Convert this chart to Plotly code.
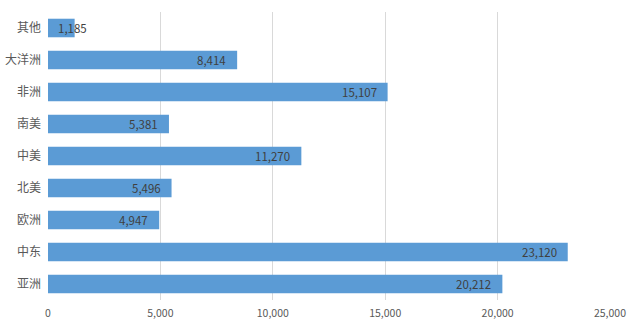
import plotly.graph_objects as go

categories = ["其他", "大洋洲", "非洲", "南美", "中美", "北美", "欧洲", "中东", "亚洲"]
values = [1185, 8414, 15107, 5381, 11270, 5496, 4947, 23120, 20212]
tick_vals = [0, 5000, 10000, 15000, 20000, 25000]
tick_text = ["0", "5,000", "10,000", "15,000", "20,000", "25,000"]

labels = [f"{v:,}" for v in values]

fig = go.Figure()
fig.add_trace(go.Bar(
    y=categories, x=values, orientation="h",
    marker=dict(color="#5b9bd5", line=dict(width=0)),
    width=0.58,
    hoverinfo="skip",
))

annotations = []
for c, v, t in zip(categories, values, labels):
    if v < 3000:
        annotations.append(dict(x=0, y=c, xref="x", yref="y", text=t, showarrow=False,
                                xanchor="left", xshift=8, font=dict(size=11.5, color="#404040")))
    else:
        annotations.append(dict(x=v, y=c, xref="x", yref="y", text=t, showarrow=False,
                                xanchor="right", xshift=-9, font=dict(size=11.5, color="#404040")))

fig.update_layout(
    width=630, height=328,
    margin=dict(l=48, r=20, t=12, b=28),
    paper_bgcolor="white", plot_bgcolor="white",
    font=dict(family="Noto Sans CJK SC, Noto Sans, sans-serif", color="#595959"),
    showlegend=False,
    annotations=annotations,
    xaxis=dict(range=[0, 25000], tickvals=tick_vals, ticktext=tick_text,
               showgrid=True, gridcolor="#d9d9d9", gridwidth=1,
               zeroline=False, showline=False, ticks="", automargin=False,
               ticklabelstandoff=5,
               tickfont=dict(size=10.5, color="#595959"), fixedrange=True),
    yaxis=dict(autorange="reversed", showgrid=False, zeroline=False, showline=False,
               ticks="", ticklabelstandoff=6, automargin=False,
               tickfont=dict(size=12, color="#595959"), fixedrange=True),
)

fig.write_html("out.html")
